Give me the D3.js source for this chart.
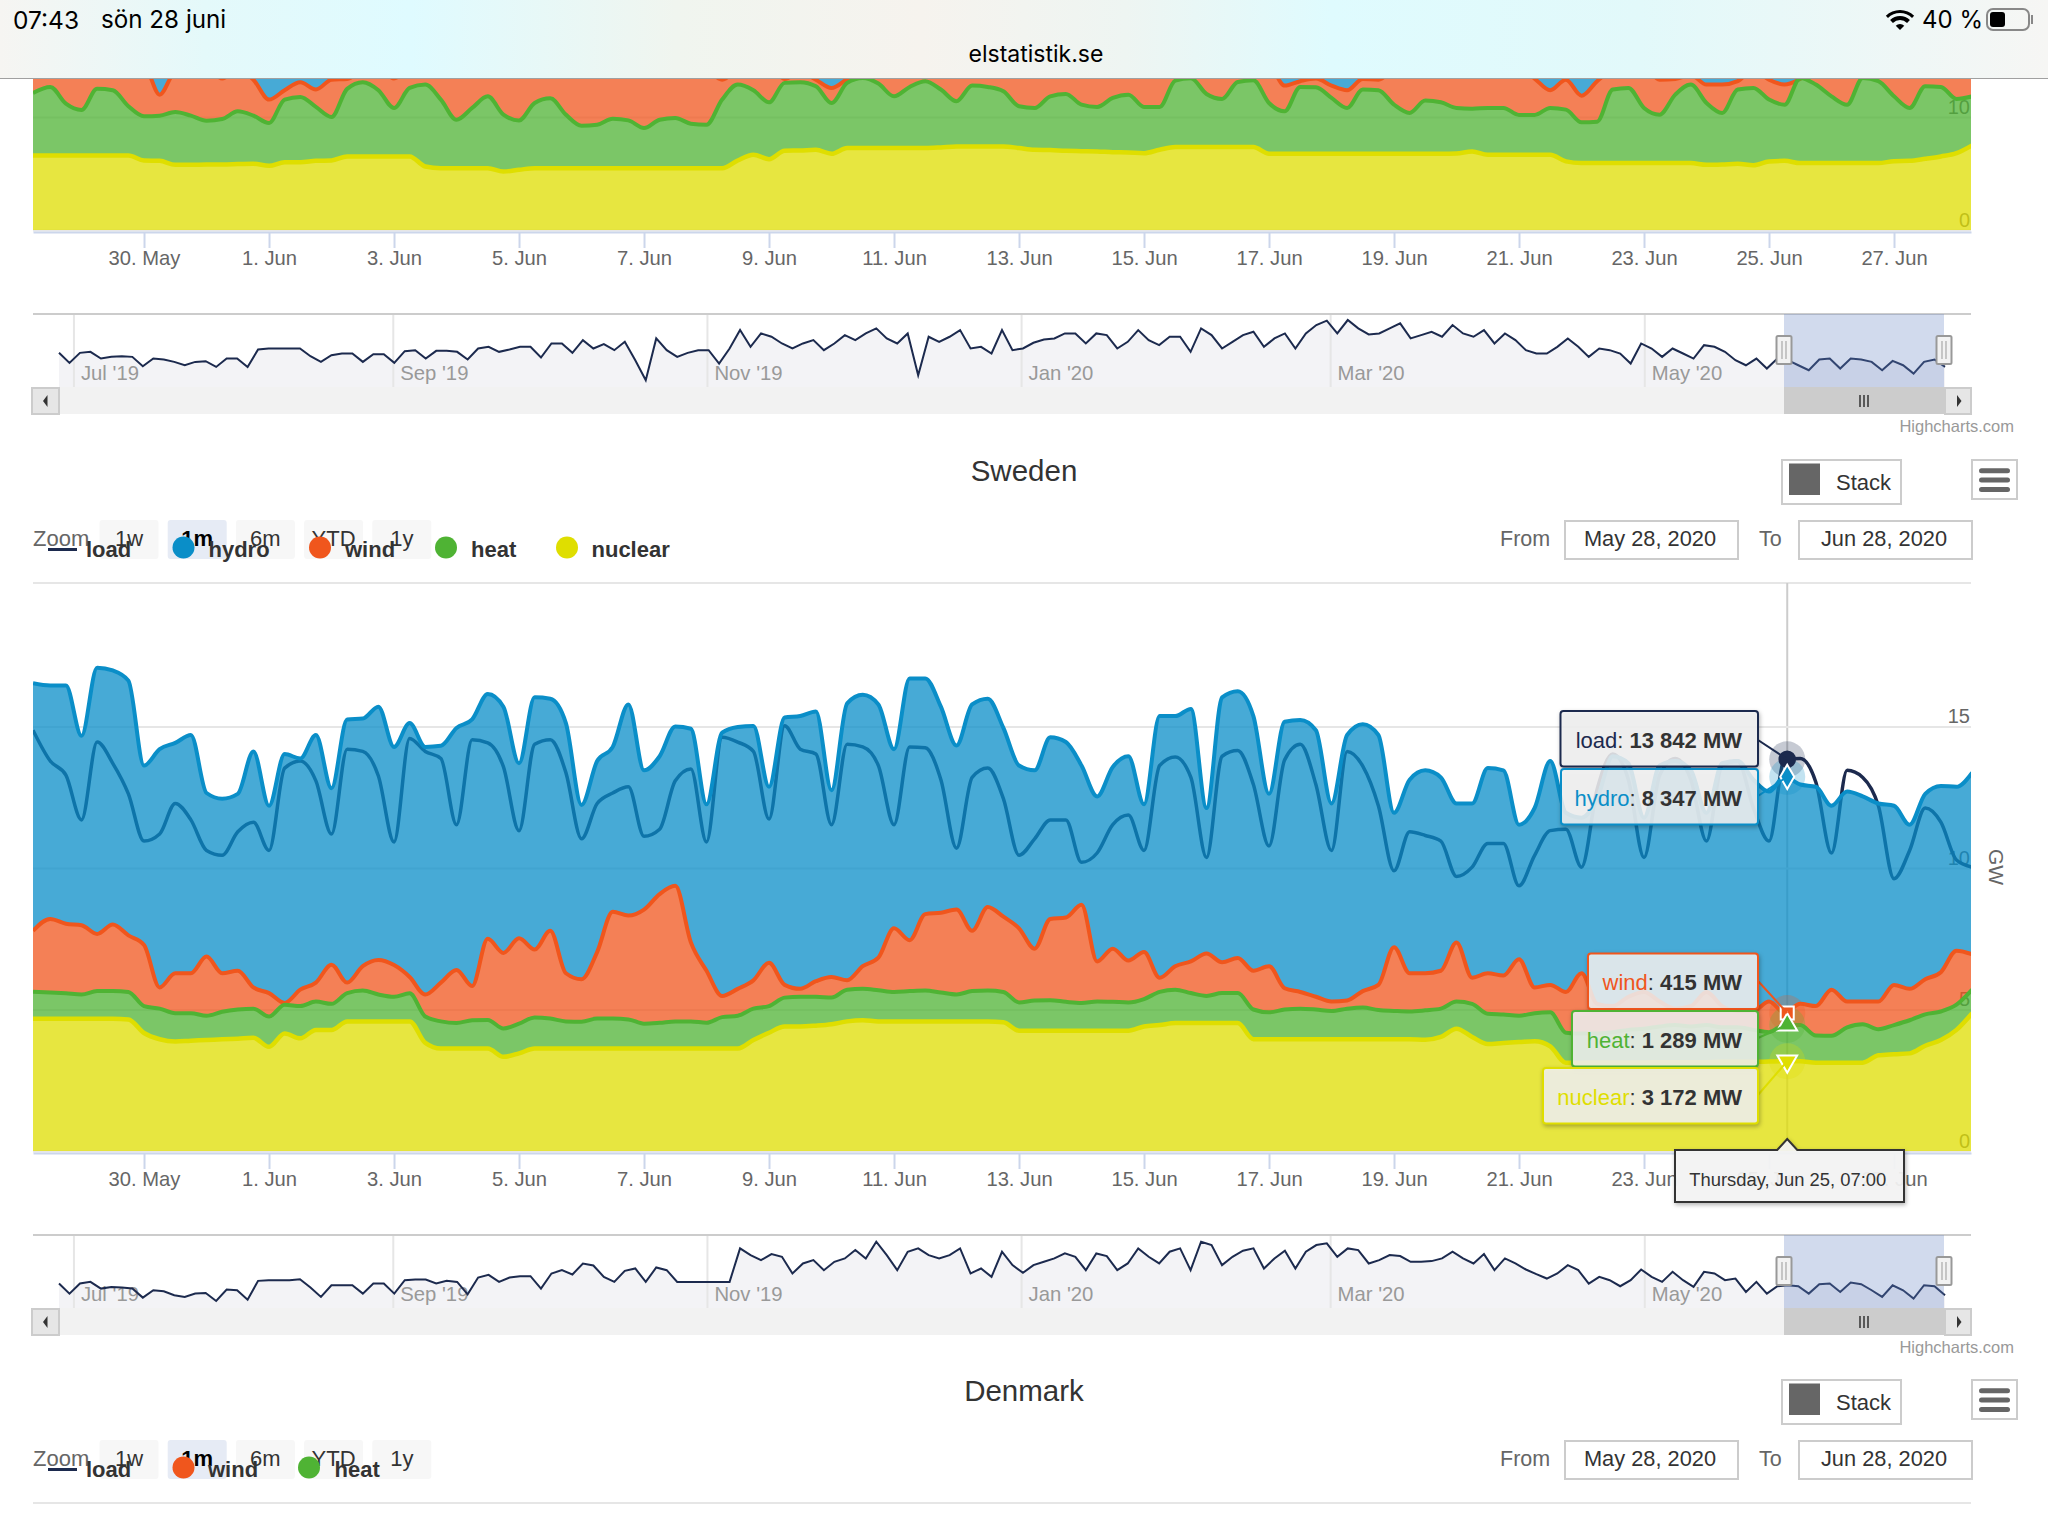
<!DOCTYPE html>
<html>
<head>
<meta charset="utf-8">
<title>elstatistik.se</title>
<script src="https://cdn.jsdelivr.net/npm/d3@7"></script>
<style>
  html, body { margin: 0; padding: 0; background: #fff; }
  svg { display: block; }
  text { font-family: "Liberation Sans", Arial, sans-serif; }
</style>
</head>
<body>
<svg id="page" width="2048" height="1536" viewBox="0 0 2048 1536"></svg>
<script>
// all series are 6 hourly from May 28 2020 06:00, values in GW read off the picture
// the stacked series hold the top of their band, not their own share

var swedenNuclear = [
    4.67,4.67,4.67,4.67,4.67,4.67,4.65,4.17,3.95,3.87,
    3.9,3.92,3.95,3.97,4.0,3.68,4.15,3.98,4.28,4.28,
    4.58,4.58,4.58,4.58,4.58,3.82,3.62,3.62,3.62,3.62,
    3.33,3.45,3.62,3.62,3.62,3.62,3.62,3.62,3.62,3.62,
    3.62,3.62,3.62,3.62,3.62,3.62,3.92,4.18,4.4,4.4,
    4.43,4.48,4.58,4.62,4.58,4.58,4.58,4.58,4.58,4.58,
    4.58,4.58,4.55,4.25,4.25,4.25,4.25,4.25,4.25,4.25,
    4.25,4.4,4.45,4.52,4.52,4.52,4.52,4.52,3.95,3.95,
    3.95,3.95,3.95,3.95,3.95,3.95,3.95,3.95,3.95,3.93,
    4.03,4.32,4.03,3.78,3.82,3.85,3.88,3.7,3.12,3.12,
    3.13,3.13,3.13,3.13,3.14,3.14,3.14,3.14,3.15,3.15,
    3.15,3.16,3.17,3.17,3.12,3.12,3.12,3.12,3.38,3.42,
    3.45,3.72,3.92,4.28,4.87];
var swedenHeat = [
    5.63,5.6,5.57,5.53,5.65,5.65,5.62,5.12,5.03,4.87,
    4.87,4.78,4.92,5.0,5.03,4.75,5.17,5.12,5.28,5.2,
    5.58,5.67,5.53,5.45,5.57,4.75,4.58,4.52,4.62,4.63,
    4.33,4.5,4.72,4.68,4.58,4.57,4.68,4.68,4.65,4.5,
    4.53,4.58,4.58,4.53,4.73,4.78,5.03,5.12,5.42,5.45,
    5.45,5.42,5.7,5.73,5.68,5.62,5.65,5.67,5.6,5.53,
    5.65,5.67,5.62,5.25,5.32,5.33,5.27,5.23,5.28,5.27,
    5.25,5.37,5.62,5.7,5.58,5.48,5.58,5.58,5.0,4.9,
    5.0,5.03,5.0,4.95,5.03,5.07,4.98,4.95,4.93,4.97,
    5.03,5.28,5.2,4.85,4.82,4.78,4.87,4.9,4.18,4.15,
    4.15,4.2,4.28,4.32,4.4,4.45,4.4,4.45,4.37,4.37,
    4.28,4.2,4.46,4.45,4.08,4.07,4.37,4.48,4.3,4.45,
    4.62,4.83,4.93,5.17,5.7];
var swedenWind = [
    7.78,8.2,8.03,7.98,7.67,8.0,7.62,7.28,5.78,6.28,
    6.28,6.87,6.28,6.37,5.78,5.58,5.23,5.7,5.95,6.58,
    5.95,6.53,6.75,6.57,6.15,5.53,5.95,6.4,5.83,7.5,
    7.0,7.52,7.12,7.78,6.28,6.07,7.03,8.45,8.32,8.53,
    9.08,9.37,7.37,6.37,5.48,5.73,6.03,6.65,5.87,5.73,
    6.0,6.15,6.03,6.53,6.83,7.87,7.45,8.37,8.42,8.53,
    7.78,8.62,8.28,7.87,7.15,8.2,8.25,8.7,6.7,7.15,
    6.73,7.03,6.12,6.53,6.7,6.98,6.67,6.82,6.37,6.53,
    5.75,5.62,5.45,5.28,5.32,5.65,5.87,7.2,6.28,6.28,
    6.37,7.37,6.12,6.28,6.2,6.78,5.78,5.87,5.62,6.28,
    5.2,5.12,5.45,5.62,5.28,5.03,5.12,5.62,5.12,4.95,
    4.95,5.28,4.88,5.2,5.12,5.7,5.28,5.28,5.28,5.87,
    5.73,6.07,6.32,7.08,6.95];
var swedenHydro = [
    16.53,16.45,16.45,14.67,17.08,16.98,16.62,13.62,14.2,14.42,
    14.7,12.65,12.45,12.62,14.12,12.2,14.03,13.87,14.7,12.82,
    15.25,15.28,15.7,14.28,15.12,14.28,14.32,14.95,15.25,16.15,
    15.7,13.7,16.03,15.98,15.12,12.23,13.78,14.28,15.78,13.45,
    13.95,15.0,14.92,12.25,14.78,14.98,15.02,12.87,15.32,15.37,
    15.53,12.75,15.82,16.12,15.78,14.2,16.7,16.7,15.7,14.33,
    15.78,15.98,14.95,13.62,13.45,14.62,14.45,13.62,12.53,13.57,
    13.95,12.25,15.37,15.37,15.62,12.12,16.03,16.25,15.37,12.62,
    15.17,15.23,14.87,12.28,14.7,15.08,14.7,11.95,13.12,13.45,
    13.2,12.28,12.28,13.53,13.45,11.53,12.12,13.78,11.95,11.78,
    12.45,13.95,13.7,11.78,13.62,13.78,13.45,11.95,13.7,13.78,
    13.12,12.7,13.22,12.95,12.87,12.2,12.7,12.53,12.28,12.2,
    11.53,12.62,12.9,12.87,13.37];
var swedenLoad = [
    14.87,13.78,13.28,11.7,14.45,13.7,12.62,10.95,11.2,12.28,
    11.7,10.62,10.45,11.28,11.62,10.62,13.53,13.78,13.08,11.2,
    14.2,14.12,13.25,10.92,14.58,14.12,13.87,11.53,14.53,14.42,
    13.58,11.32,14.37,14.53,13.37,11.03,12.28,12.65,12.87,11.12,
    11.37,13.08,13.5,10.92,14.62,14.45,14.12,11.73,15.03,14.2,
    14.03,11.53,14.37,14.28,13.62,11.53,14.28,14.25,13.12,10.7,
    13.2,13.53,12.45,10.45,11.03,11.7,11.7,10.2,10.53,11.53,
    11.87,10.62,13.62,13.92,13.2,10.37,13.95,14.15,12.95,10.78,
    13.82,14.37,12.95,10.62,14.12,13.6,12.2,9.9,11.28,11.15,
    10.95,9.7,10.03,10.87,10.87,9.37,10.45,11.32,11.37,10.03,
    12.78,14.03,13.12,10.37,13.28,13.87,13.12,10.95,13.62,13.78,
    12.12,10.95,13.84,13.87,13.03,10.53,13.45,13.2,12.2,9.62,
    10.62,12.12,11.62,10.28,10.03];

// chart cut off by the browser bar at the top of the page
var upperNuclear = [
    6.6,6.6,6.6,6.6,6.6,6.6,6.6,6.15,6.12,5.77,
    5.77,5.8,5.8,5.83,5.86,5.68,6.0,6.0,6.12,6.15,
    6.51,6.51,6.51,6.51,6.51,5.62,5.47,5.47,5.47,5.47,
    5.18,5.33,5.47,5.47,5.47,5.47,5.47,5.47,5.47,5.47,
    5.47,5.47,5.47,5.47,5.47,6.15,6.66,6.27,7.01,7.04,
    7.1,6.75,7.25,7.25,7.25,7.25,7.25,7.25,7.31,7.4,
    7.4,7.4,7.4,7.25,7.1,7.07,7.01,6.98,6.95,6.89,
    6.86,6.8,7.1,7.34,7.34,7.34,7.34,7.34,7.34,6.75,
    6.75,6.75,6.75,6.75,6.75,6.75,6.75,6.75,6.75,6.75,
    6.75,6.78,6.95,6.66,6.66,6.66,6.66,6.66,6.07,5.92,
    5.92,5.92,5.92,5.92,5.92,5.92,5.92,5.77,5.8,5.86,
    5.74,6.07,6.12,5.92,5.92,5.92,5.92,5.92,5.92,6.09,
    6.12,6.3,6.51,6.8,7.49];
var upperHeat = [
    12.13,12.66,11.18,10.62,12.49,12.37,10.95,10.06,10.12,10.44,
    10.12,9.67,9.82,10.5,10.12,9.47,11.54,11.78,10.89,10.0,
    12.49,13.08,12.37,10.8,12.57,12.87,11.54,9.76,10.8,11.83,
    10.21,9.7,11.24,11.66,10.21,9.23,9.32,9.85,9.7,9.02,
    9.76,9.91,9.41,9.32,11.54,12.87,12.37,11.3,13.02,13.08,
    12.72,11.24,13.02,13.46,12.96,11.83,12.66,13.17,12.43,11.39,
    12.78,12.66,12.28,10.95,10.8,11.83,12.04,11.09,10.89,11.69,
    11.98,10.89,10.89,13.22,13.43,12.04,11.6,13.1,13.25,11.24,
    10.5,12.66,12.63,11.69,10.8,12.43,12.37,11.09,10.36,11.45,
    11.3,10.8,10.74,10.8,10.8,10.18,10.18,10.8,10.65,9.53,
    9.59,12.43,12.57,10.8,10.21,11.98,12.87,11.24,10.36,12.43,
    12.57,11.54,11.09,13.46,12.87,11.83,11.09,13.46,13.17,11.83,
    10.8,12.72,12.66,11.6,11.83];
var upperWind = [
    14.5,14.5,14.5,14.5,14.5,14.5,14.5,14.5,11.98,14,
    14.2,14.5,13.4,14.2,13.3,11.54,12.37,13.08,12.43,13.3,
    13.37,14.2,14.5,13.4,14.3,14.5,14.5,14.5,14.5,14.5,
    14.5,14.5,14.5,14.5,14.5,14.5,14.5,14.5,14.5,14.5,
    14.5,14.5,14.5,14.2,13.3,14.2,14.5,14.5,13.37,14,
    13.3,12.57,13.37,14.2,14.5,14.5,14.5,14.5,14.5,14.5,
    14.5,14.5,14.5,14.5,14.5,14.5,14.5,14.5,14.5,14.5,
    14.5,14.5,14.5,14.5,14.5,14.5,14.5,14.5,14.5,14.5,
    12.78,13.17,13.4,12.78,12.37,13.37,13.3,14.2,14.5,14.5,
    14.5,14.5,14.5,14.5,14.5,14.5,13.4,12.37,13.3,11.89,
    13.17,14.2,14.5,14.5,13.3,13.37,13.7,12.87,12.87,13.17,
    14.2,13.3,12.87,13.37,14.2,14.5,14.5,14.5,14.5,14.5,
    14.5,14.5,14.5,14.5,14.5];
// the top of this band is hidden behind the bar, only its colour shows
var upperHydro = [
    17,17,17,17,17,17,17,17,17,17,17,17,17,17,17,17,17,17,17,17,17,17,17,17,17,
    17,17,17,17,17,17,17,17,17,17,17,17,17,17,17,17,17,17,17,17,17,17,17,17,17,
    17,17,17,17,17,17,17,17,17,17,17,17,17,17,17,17,17,17,17,17,17,17,17,17,17,
    17,17,17,17,17,17,17,17,17,17,17,17,17,17,17,17,17,17,17,17,17,17,17,17,17,
    17,17,17,17,17,17,17,17,17,17,17,17,17,17,17,17,17,17,17,17,17,17,17,17,17];

// navigators, one year of load about every second day, relative level
var upperNavLoad = [
    10.2,7.2,10.2,10.5,8.5,9,9.2,9,6.2,8.5,8.2,7.5,6.5,7.5,7.7,6,8.5,8.5,6,11.2,
    11.5,11.5,11.5,11.5,9.2,7.5,9.5,10,10,7.5,9.8,9.8,7.2,10.7,11,8.5,10.8,10.8,10.5,8.2,
    11.5,12,10.5,11.2,12,12,8.8,13,13,10.2,14,11.5,12.8,11,13.5,8,2,14.5,11,9,
    10.2,11,11,7,11.5,17,12,16,15,13,11.5,13,14,11,13,15.5,14,16,17.5,14.5,
    13,16,3.5,15,13.5,15,17,11.5,12,10,17,11,11.5,
    13.2,14.2,14.5,16,16,13,16,15.5,11.5,13.5,17,14,12.5,15,15,10.5,17.5,15.5,11.5,13.5,
    15.5,16.5,12,14.5,16,11.5,16,18.5,19.8,16,20,17.5,15.7,16,17.5,19,14.5,15.5,16.5,15,
    18.5,16,15,17,13,16,14,11,10,10,12,14.5,12,9,11.5,11,10,7,13,11.5,
    9,11.5,10,8.5,12.5,12,10.5,8,6.5,8.5,5.5,8.5,8,6.5,5,8.2,8.5,5.5,8.5,8.2,
    7.5,5,7.8,6.5,4,7.5,8.2,6];
var swedenNavLoad = [
    7.3,4.3,7.3,7.8,5.8,6.3,6.1,5.8,3.1,5.3,5,3.8,3.3,4.3,4.5,2.1,5.5,5.3,2.5,8.1,
    8.3,8.3,8.3,8.6,6.1,3.3,6.8,6.8,6.8,4.3,7.3,7.3,4.3,8.3,8.5,8.5,7.3,8.1,7.8,4.1,
    9.1,9.9,7.8,9.1,9.5,9.5,5.8,10.3,11.3,10,13.3,12.7,9.3,7.8,11.1,11.8,7.8,12.1,11.3,7.8,
    7.8,7.8,7.8,7.8,7.8,17.8,15.8,14.3,16.1,15.3,10.3,13.3,14.3,11.3,13.8,14.8,17.3,14.8,19.8,15.8,
    11.3,16.8,17.8,15.8,14.8,15.8,17.8,10.3,11.8,9.3,16.8,12.8,10.5,
    12.8,13.8,14.8,16.3,15.3,11.3,16.3,15.5,11.3,13.3,17.8,15.3,13.3,16.8,17.8,11.3,19.8,18.8,12.8,15.3,
    17.1,17.8,11.8,14.8,17.1,11.8,16.8,18.8,19.3,15.3,17.8,17.3,13.3,14.3,15.8,15.5,13.8,13.8,14,14.8,
    16.8,14.8,13.3,16.1,11.3,14.8,13.3,11.5,10.1,8.8,10.3,12.8,11.3,7.3,9.3,8.3,6.5,8.3,11.5,9.3,
    7.8,10.8,8.3,6.3,10.8,10.3,8.3,8.8,4.8,7.8,4.3,6.5,6.8,6.5,4.3,7.1,7.3,4.8,7.6,7.1,
    5.3,3.3,6.8,5.3,2.8,6.8,6.5,3.8];

var xTickDays = [[4,30],[5,1],[5,3],[5,5],[5,7],[5,9],[5,11],[5,13],[5,15],[5,17],[5,19],[5,21],[5,23],[5,25],[5,27]];
var xTickLabels = ['30. May','1. Jun','3. Jun','5. Jun','7. Jun','9. Jun','11. Jun','13. Jun','15. Jun','17. Jun','19. Jun','21. Jun','23. Jun','25. Jun','27. Jun'];
var navTickLabels = ["Jul '19","Sep '19","Nov '19","Jan '20","Mar '20","May '20"];
var zoomLabels = ['1w','1m','6m','YTD','1y'];
var swedenLegend = ['load','hydro','wind','heat','nuclear'];
var denmarkLegend = ['load','wind','heat'];
var tooltipSeries = ['load','hydro','wind','heat','nuclear'];
var tooltipValues = [13842,8347,415,1289,3172];

var colors = { load: '#1c2a4e', hydro: '#0a8ec8', wind: '#f0561d', heat: '#4fb334', nuclear: '#dfde00' };

var svg = d3.select('#page');
var left = 33, right = 1971;

var x = d3.scaleTime()
    .domain([new Date(2020, 4, 28, 5, 22), new Date(2020, 5, 28, 5, 34)])
    .range([left, right]);
// the first sample is taken at the left edge of the plot
function sampleX(d, i) { return i === 0 ? left : x(new Date(2020, 4, 28, 6 + i * 6)); }

var navTime = d3.scaleTime()
    .domain([new Date(2019, 5, 28), new Date(2020, 5, 28)])
    .range([59, 1944]);
var navMonths = [new Date(2019, 6, 1), new Date(2019, 8, 1), new Date(2019, 10, 1), new Date(2020, 0, 1), new Date(2020, 2, 1), new Date(2020, 4, 1)];

function plain(g, size, color, weight) {
    return g.attr('font-size', size).attr('fill', color).attr('font-weight', weight || 'normal').attr('dominant-baseline', 'central');
}

// one stacked chart: x axis, grid, load behind and the bands on top
function drawStock(id, top, baseline, y, yTicks, bands, load) {
    svg.append('defs').append('clipPath').attr('id', 'clip' + id)
        .append('rect').attr('x', left).attr('y', top).attr('width', right - left).attr('height', baseline - top + 2);

    var grid = d3.axisRight(y).tickValues(yTicks).tickSize(right - left).tickFormat('');
    svg.append('g').attr('transform', 'translate(' + left + ',0)').call(grid)
        .call(function (g) {
            g.select('.domain').remove();
            g.selectAll('line').attr('stroke', '#e6e6e6').attr('stroke-width', 2);
        });

    var yLabels = d3.axisLeft(y).tickValues(yTicks).tickSize(0).tickPadding(1);
    svg.append('g').attr('transform', 'translate(' + right + ',0)').call(yLabels)
        .call(function (g) {
            g.select('.domain').remove();
            g.selectAll('text').attr('font-size', 20).attr('fill', '#666').attr('dy', '-0.2em')
                .attr('font-family', '"Liberation Sans"');
        });

    var xAxis = d3.axisBottom(x)
        .tickValues(xTickDays.map(function (d) { return new Date(2020, d[0], d[1]); }))
        .tickFormat(function (d, i) { return xTickLabels[i]; })
        .tickSize(16).tickPadding(3).tickSizeOuter(0);
    svg.append('g').attr('transform', 'translate(0,' + (baseline + 2) + ')').call(xAxis)
        .call(function (g) {
            g.select('.domain').attr('stroke', '#ccd6eb').attr('stroke-width', 2);
            g.selectAll('line').attr('stroke', '#ccd6eb').attr('stroke-width', 2);
            g.selectAll('text').attr('font-size', 20.2).attr('fill', '#666').attr('font-family', '"Liberation Sans"');
        });

    return svg.append('g').attr('clip-path', 'url(#clip' + id + ')').call(function (plot) {
        var line = d3.line().x(sampleX).y(function (d) { return y(d); }).curve(d3.curveMonotoneX);
        if (load) {
            plot.append('path').attr('d', line(load)).attr('fill', 'none')
                .attr('stroke', colors.load).attr('stroke-width', 3.5);
        }
        bands.forEach(function (b) {
            var area = d3.area().x(sampleX)
                .y0(function (d, i) { return b.below ? y(b.below[i]) : y(0); })
                .y1(function (d) { return y(d); })
                .curve(d3.curveMonotoneX);
            plot.append('path').attr('d', area(b.values)).attr('fill', colors[b.name]).attr('fill-opacity', 0.75);
            plot.append('path').attr('d', line(b.values)).attr('fill', 'none')
                .attr('stroke', colors[b.name]).attr('stroke-width', b.name === 'nuclear' ? 4.5 : 4);
        });
    });
}

function drawNavigator(top, values) {
    var bottom = top + 73;
    var navIndex = d3.scaleLinear().domain([0, values.length - 1]).range([59, 1945]);
    var navY = d3.scaleLinear().domain([0, 21.8]).range([bottom, top]);
    var g = svg.append('g');

    g.append('path').attr('fill', '#f3f3f6')
        .attr('d', d3.area().x(function (d, i) { return navIndex(i); }).y0(bottom).y1(function (d) { return navY(d); })(values));

    var axis = d3.axisBottom(navTime).tickValues(navMonths)
        .tickFormat(function (d, i) { return navTickLabels[i]; })
        .tickSize(-73).tickSizeOuter(0);
    g.append('g').attr('transform', 'translate(0,' + bottom + ')').call(axis)
        .call(function (a) {
            a.select('.domain').remove();
            a.selectAll('line').attr('stroke', '#e6e6e6').attr('stroke-width', 2).attr('transform', 'translate(-1,0)');
            a.selectAll('text').attr('x', 6).attr('y', -14).attr('dy', '.35em').attr('text-anchor', 'start')
                .attr('font-size', 20.3).attr('fill', '#999').attr('font-family', '"Liberation Sans"');
        });

    g.append('line').attr('x1', left).attr('x2', right).attr('y1', top).attr('y2', top)
        .attr('stroke', '#ccc').attr('stroke-width', 2);
    g.append('path').attr('fill', 'none').attr('stroke', colors.load).attr('stroke-width', 2)
        .attr('d', d3.line().x(function (d, i) { return navIndex(i); }).y(function (d) { return navY(d); })(values));

    // selected month
    g.append('rect').attr('x', 1784).attr('y', top).attr('width', 160).attr('height', 73)
        .attr('fill', '#6685c2').attr('fill-opacity', 0.3);
    [1784, 1944].forEach(function (hx) {
        g.append('rect').attr('x', hx - 7.5).attr('y', top + 22).attr('width', 15).attr('height', 28).attr('rx', 1.5)
            .attr('fill', '#f2f2f2').attr('stroke', '#999').attr('stroke-width', 2);
        [-2, 2].forEach(function (o) {
            g.append('line').attr('x1', hx + o).attr('x2', hx + o).attr('y1', top + 27).attr('y2', top + 45)
                .attr('stroke', '#999').attr('stroke-width', 1);
        });
    });

    // scrollbar
    var s = bottom;
    g.append('rect').attr('x', 59).attr('y', s).attr('width', 1886).attr('height', 27).attr('fill', '#f2f2f2');
    g.append('rect').attr('x', 32).attr('y', s + 1).attr('width', 27).attr('height', 26)
        .attr('fill', '#e6e6e6').attr('stroke', '#ccc').attr('stroke-width', 2);
    g.append('rect').attr('x', 1945).attr('y', s + 1).attr('width', 26).attr('height', 26)
        .attr('fill', '#e6e6e6').attr('stroke', '#ccc').attr('stroke-width', 2);
    g.append('path').attr('d', 'M47.5 ' + (s + 8) + 'L43 ' + (s + 14) + 'L47.5 ' + (s + 20) + 'Z').attr('fill', '#333');
    g.append('path').attr('d', 'M1957 ' + (s + 8) + 'L1961.5 ' + (s + 14) + 'L1957 ' + (s + 20) + 'Z').attr('fill', '#333');
    g.append('rect').attr('x', 1784).attr('y', s).attr('width', 161).attr('height', 27).attr('fill', '#ccc');
    [-4, 0, 4].forEach(function (o) {
        g.append('line').attr('x1', 1864 + o).attr('x2', 1864 + o).attr('y1', s + 8).attr('y2', s + 20)
            .attr('stroke', '#333').attr('stroke-width', 1.5);
    });

    plain(g.append('text').attr('x', 2014).attr('y', s + 39).attr('text-anchor', 'end').text('Highcharts.com'), 16.5, '#999');
}

// title, range selector, legend and buttons of one chart block
function drawControls(dy, title, legend, circleX, textX) {
    var g = svg.append('g').attr('transform', 'translate(0,' + dy + ')');

    plain(g.append('text').attr('x', 1024).attr('y', 470.5).attr('text-anchor', 'middle').text(title), 29.5, '#333');

    plain(g.append('text').attr('x', 33).attr('y', 538.5).text('Zoom'), 22, '#666');
    zoomLabels.forEach(function (d, i) {
        var bx = 99.5 + i * 68.2, on = d === '1m';
        g.append('rect').attr('x', bx).attr('y', 520).attr('width', 59).attr('height', 39).attr('rx', 3)
            .attr('fill', on ? '#e6ebf5' : '#f7f7f7');
        plain(g.append('text').attr('x', bx + 29.5).attr('y', 538).attr('text-anchor', 'middle').text(d),
            22, on ? '#000' : '#333', on ? 'bold' : 'normal');
    });

    // legend overlaps the zoom buttons in the picture, keep it that way
    g.append('line').attr('x1', 48).attr('x2', 77).attr('y1', 549.5).attr('y2', 549.5)
        .attr('stroke', colors.load).attr('stroke-width', 3);
    legend.forEach(function (d, i) {
        if (d !== 'load') {
            g.append('circle').attr('cx', circleX[i]).attr('cy', 547.5).attr('r', 11).attr('fill', colors[d]);
        }
        plain(g.append('text').attr('x', textX[i]).attr('y', 549.5).text(d), 22, '#333', 'bold');
    });

    plain(g.append('text').attr('x', 1500).attr('y', 538.5).text('From'), 21.5, '#666');
    plain(g.append('text').attr('x', 1759).attr('y', 538.5).text('To'), 21.5, '#666');
    [[1564, 'May 28, 2020'], [1798, 'Jun 28, 2020']].forEach(function (b) {
        g.append('rect').attr('x', b[0] + 1).attr('y', 521).attr('width', 173).attr('height', 38)
            .attr('fill', '#fff').attr('stroke', '#ccc').attr('stroke-width', 2);
        plain(g.append('text').attr('x', b[0] + 86).attr('y', 538).attr('text-anchor', 'middle').text(b[1]), 21.8, '#333');
    });

    g.append('rect').attr('x', 1782).attr('y', 460).attr('width', 119).attr('height', 44)
        .attr('fill', '#fff').attr('stroke', '#ccc').attr('stroke-width', 2);
    g.append('rect').attr('x', 1789).attr('y', 463.5).attr('width', 31).attr('height', 31.5).attr('fill', '#666');
    plain(g.append('text').attr('x', 1836).attr('y', 482.5).text('Stack'), 22, '#333');

    g.append('rect').attr('x', 1972).attr('y', 460).attr('width', 45).attr('height', 39)
        .attr('fill', '#fff').attr('stroke', '#ccc').attr('stroke-width', 2);
    [470.7, 480, 489.5].forEach(function (by) {
        g.append('rect').attr('x', 1979).attr('y', by - 2.5).attr('width', 31).attr('height', 5).attr('rx', 2.5).attr('fill', '#666');
    });

    g.append('line').attr('x1', left).attr('x2', right).attr('y1', 583).attr('y2', 583)
        .attr('stroke', '#e6e6e6').attr('stroke-width', 2);
}

// block behind the browser bar
var upperY = d3.scaleLinear().domain([0, 10]).range([230, 117]);
drawStock('Upper', 60, 230, upperY, [0, 10], [
    { name: 'hydro', values: upperHydro, below: upperWind },
    { name: 'wind', values: upperWind, below: upperHeat },
    { name: 'heat', values: upperHeat, below: upperNuclear },
    { name: 'nuclear', values: upperNuclear }
]);
drawNavigator(314, upperNavLoad);

// Sweden
drawControls(0, 'Sweden', swedenLegend, [0, 183.5, 320, 446, 567], [86, 208.5, 345, 471, 591.5]);

var y = d3.scaleLinear().domain([0, 15]).range([1151, 726.5]);
var crossTime = new Date(2020, 5, 25, 7);
var crossX = x(crossTime);

// crosshair sits under the series, so do it before them
svg.append('line').attr('x1', crossX).attr('x2', crossX).attr('y1', 583).attr('y2', 1151)
    .attr('stroke', '#ccc').attr('stroke-width', 2);

// axis title on the right of the Sweden plot
plain(svg.append('text').attr('transform', 'translate(1996,867) rotate(90)').attr('text-anchor', 'middle').text('GW'), 21, '#666');

drawStock('Sweden', 583, 1151, y, [0, 5, 10, 15], [
    { name: 'hydro', values: swedenHydro, below: swedenWind },
    { name: 'wind', values: swedenWind, below: swedenHeat },
    { name: 'heat', values: swedenHeat, below: swedenNuclear },
    { name: 'nuclear', values: swedenNuclear }
], swedenLoad);
drawNavigator(1235, swedenNavLoad);

// Denmark, only the top of it is on the page
drawControls(920, 'Denmark', denmarkLegend, [0, 183.5, 309], [86, 208, 334.5]);

// hover state
var stackedAtCross = {
    load: tooltipValues[0],
    nuclear: tooltipValues[4],
    heat: tooltipValues[4] + tooltipValues[3],
    wind: tooltipValues[4] + tooltipValues[3] + tooltipValues[2],
    hydro: tooltipValues[4] + tooltipValues[3] + tooltipValues[2] + tooltipValues[1]
};
var symbols = { load: d3.symbolCircle, hydro: d3.symbolDiamond, wind: d3.symbolSquare, heat: d3.symbolTriangle, nuclear: d3.symbolTriangle };
var boxes = {
    load: { x: 1560.5, y: 711, lineY: 740 },
    hydro: { x: 1561, y: 769, lineY: 796 },
    wind: { x: 1588, y: 953.5, lineY: 981 },
    heat: { x: 1572, y: 1011, lineY: 1038 },
    nuclear: { x: 1543, y: 1068, lineY: 1095 }
};
var hover = svg.append('g');
tooltipSeries.forEach(function (name) {
    var py = y(stackedAtCross[name] / 1000);
    hover.append('circle').attr('cx', crossX).attr('cy', py).attr('r', 18).attr('fill', colors[name]).attr('fill-opacity', 0.25);
});
tooltipSeries.forEach(function (name) {
    var py = y(stackedAtCross[name] / 1000);
    var turn = name === 'nuclear' ? ' rotate(180)' : '';
    hover.append('path').attr('d', d3.symbol().type(symbols[name]).size(name === 'load' ? 190 : 170)())
        .attr('transform', 'translate(' + crossX + ',' + py + ')' + turn)
        .attr('fill', colors[name])
        .attr('stroke', name === 'load' ? colors.load : '#fff').attr('stroke-width', 2);
});
function spaced(v) { return d3.format(',')(v).replace(',', ' '); }
tooltipSeries.forEach(function (name, i) {
    var b = boxes[name], py = y(stackedAtCross[name] / 1000);
    var g = hover.append('g');
    g.append('path').attr('d', d3.line()([[1758, b.lineY], [crossX, py]])).attr('stroke', colors[name]).attr('stroke-width', 2).attr('fill', 'none');
    g.append('rect').attr('x', b.x).attr('y', b.y).attr('width', 1758 - b.x).attr('height', 55.5).attr('rx', 3)
        .attr('fill', '#f7f7f7').attr('fill-opacity', 0.85).attr('stroke', colors[name]).attr('stroke-width', 2)
        .style('filter', 'drop-shadow(1px 2px 2px rgba(0,0,0,.3))');
    var t = g.append('text').attr('x', 1742).attr('y', b.y + 28.5).attr('text-anchor', 'end')
        .attr('font-size', 22).attr('dominant-baseline', 'central').attr('fill', '#333');
    t.append('tspan').attr('fill', colors[name]).text(name);
    t.append('tspan').text(': ');
    t.append('tspan').attr('font-weight', 'bold').text(spaced(tooltipValues[i]) + ' MW');
});

// date box under the crosshair
hover.append('path')
    .attr('d', 'M1675 1150H' + (crossX - 10) + 'L' + crossX + ' 1139L' + (crossX + 10) + ' 1150H1904V1202H1675Z')
    .attr('fill', '#f7f7f7').attr('fill-opacity', 0.92).attr('stroke', '#333').attr('stroke-width', 2)
    .style('filter', 'drop-shadow(1px 2px 2px rgba(0,0,0,.3))');
plain(hover.append('text').attr('x', crossX + 0.5).attr('y', 1179).attr('text-anchor', 'middle').text('Thursday, Jun 25, 07:00'), 18.4, '#333');

// browser bar
var grad = svg.append('defs').append('linearGradient').attr('id', 'bar');
[[0, '#f6f5f2'], [0.1, '#e4f9fa'], [0.2, '#dffbff'], [0.33, '#f0f5ef'], [0.45, '#f6f3ee'], [0.55, '#eef5f2'], [0.65, '#dffbfe'], [0.8, '#e2f9fa'], [1, '#f6f6f4']]
    .forEach(function (s) { grad.append('stop').attr('offset', s[0]).attr('stop-color', s[1]); });
var bar = svg.append('g');
bar.append('rect').attr('width', 2048).attr('height', 78).attr('fill', 'url(#bar)');
bar.append('line').attr('x1', 0).attr('x2', 2048).attr('y1', 78.5).attr('y2', 78.5).attr('stroke', '#a0a0a0').attr('stroke-width', 1);
function barText(tx, ty, txt, size, anchor) {
    plain(bar.append('text').attr('x', tx).attr('y', ty).attr('text-anchor', anchor || 'start').text(txt), size, '#000')
        .style('font-family', 'Inter');
}
barText(13, 19.5, '07:43', 24.5);
barText(101, 19.5, 'sön 28 juni', 24.2);
barText(1036, 53.5, 'elstatistik.se', 23, 'middle');
barText(1922, 19.5, '40 %', 24);

// wifi
[[0, 6], [10, 14], [17, 20]].forEach(function (r) {
    bar.append('path').attr('transform', 'translate(1900,30)').attr('fill', '#000')
        .attr('d', d3.arc().innerRadius(r[0]).outerRadius(r[1]).startAngle(-Math.PI / 4).endAngle(Math.PI / 4)());
});
// battery
bar.append('rect').attr('x', 1987).attr('y', 9).attr('width', 42).attr('height', 21).attr('rx', 6)
    .attr('fill', 'none').attr('stroke', '#888').attr('stroke-width', 2);
bar.append('rect').attr('x', 1990).attr('y', 12).attr('width', 15).attr('height', 15).attr('rx', 3).attr('fill', '#000');
bar.append('rect').attr('x', 2031).attr('y', 15).attr('width', 2).attr('height', 9).attr('fill', '#888');
</script>
</body>
</html>
